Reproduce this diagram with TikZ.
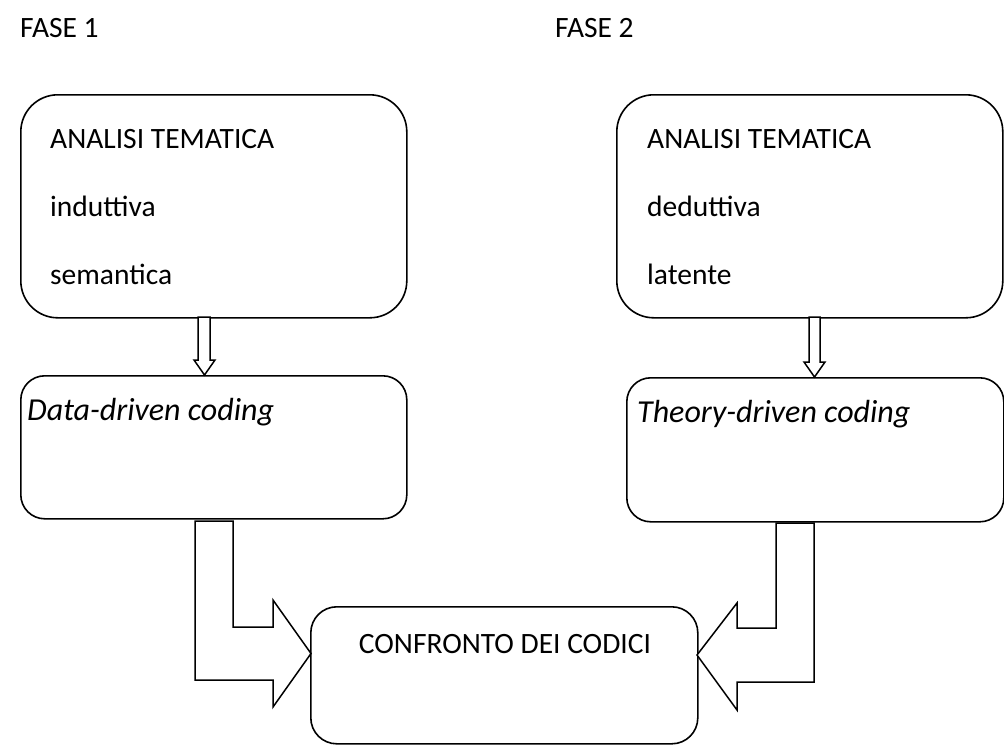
\documentclass[tikz,border=0pt]{standalone}
\usepackage{fontspec}
\setmainfont{Carlito}
\begin{document}
\begin{tikzpicture}[x=1pt,y=-1pt,
  box/.style={draw=black,line width=1.6pt,fill=white,inner sep=0pt,anchor=north west},
  lbl/.style={inner sep=0pt,anchor=base west,font=\fontsize{29.5}{35}\selectfont},
  ilbl/.style={lbl,font=\fontsize{32}{38}\selectfont\itshape},
  blockarrow/.style={draw=black,line width=1.5pt,fill=white,line join=miter}]
\useasboundingbox (0,0) rectangle (1004,748);
% boxes
\node[box,rounded corners=37pt,minimum width=386pt,minimum height=223pt] (A) at (20,94) {};
\node[box,rounded corners=37pt,minimum width=386pt,minimum height=223pt] (B) at (616,94) {};
\node[box,rounded corners=24pt,minimum width=386pt,minimum height=143pt] (C) at (20,375) {};
\node[box,rounded corners=24pt,minimum width=377pt,minimum height=144pt] (D) at (626,377) {};
\node[box,rounded corners=26pt,minimum width=387pt,minimum height=137pt] (E) at (310,606) {};
% titles
\node[lbl] (f1) at (20,37) {FASE 1};
\node[lbl] (f2) at (555,37) {FASE 2};
% texts
\node[lbl] (a1) at (50,148) {ANALISI TEMATICA};
\node[lbl] (a2) at (50,216) {induttiva};
\node[lbl] (a3) at (50,284) {semantica};
\node[lbl] (b1) at (647,148) {ANALISI TEMATICA};
\node[lbl] (b2) at (647,216) {deduttiva};
\node[lbl] (b3) at (647,284) {latente};
\node[ilbl] (c1) at (27,420) {Data-driven coding};
\node[ilbl] (d1) at (637,422) {Theory-driven coding};
\node[lbl,anchor=base] (e1) at (505,653) {CONFRONTO DEI CODICI};
% small block arrows
\draw[blockarrow] (198,317) -- (198,360) -- (194,360) -- (204.5,375) -- (215,360) -- (210,360) -- (210,317) -- cycle;
\draw[blockarrow] (809,317) -- (809,362) -- (804,362) -- (814.5,377) -- (825,362) -- (820,362) -- (820,317) -- cycle;
% big bent arrows
\draw[blockarrow] (195,521) -- (195,680) -- (273,680) -- (273,707) -- (311,653.5) -- (273,600) -- (273,627) -- (233,627) -- (233,521) -- cycle;
\draw[blockarrow] (814,523) -- (814,682) -- (737,682) -- (737,710) -- (697,655) -- (737,603) -- (737,628) -- (776,628) -- (776,523) -- cycle;
\end{tikzpicture}
\end{document}
